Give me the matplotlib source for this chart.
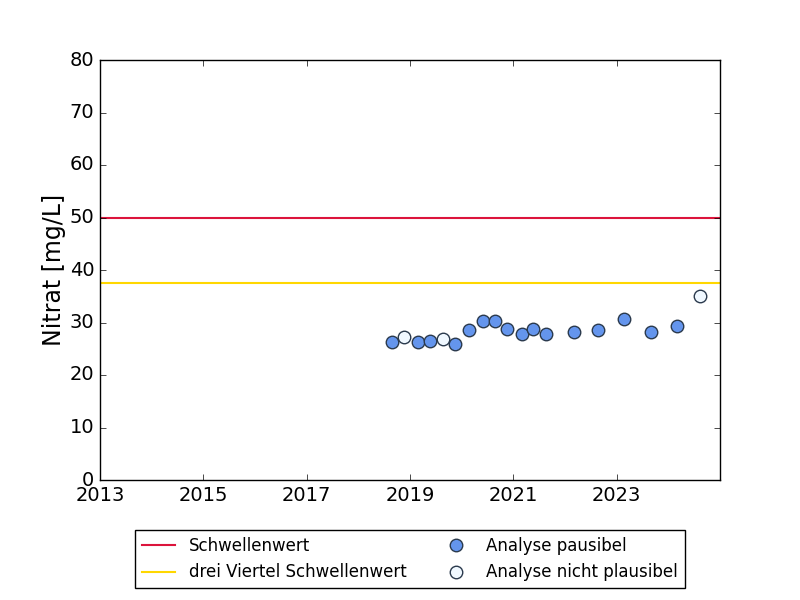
import matplotlib
matplotlib.use("Agg")
import matplotlib.pyplot as plt
import pandas as pd

plt.style.use("classic")

# Data
dates_plausible = ["2018-08-25", "2019-03-01", "2019-05-22", "2019-11-15",
                   "2020-02-20", "2020-06-03", "2020-08-25", "2020-11-15",
                   "2021-03-03", "2021-05-22", "2021-08-22", "2022-03-07",
                   "2022-08-22", "2023-02-25", "2023-09-02", "2024-03-03"]
values_plausible = [26.3, 26.2, 26.4, 26.0,
                    28.5, 30.2, 30.2, 28.7,
                    27.8, 28.8, 27.75, 28.1,
                    28.5, 30.6, 28.1, 29.3]
dates_not_plausible = ["2018-11-22", "2019-08-22", "2024-08-15"]
values_not_plausible = [27.2, 26.8, 35.0]

threshold = 50.0
three_quarter = 37.5
tick_years = [2013, 2015, 2017, 2019, 2021, 2023]
x_start = "2013-01-01"
x_end = "2024-12-31"

fig = plt.figure(figsize=(8, 6), dpi=100)
ax = fig.add_axes([0.125, 0.2, 0.775, 0.7])

ax.axhline(threshold, color="#DC143C", lw=1.5, label="Schwellenwert")
ax.axhline(three_quarter, color="#FFD700", lw=1.5, label="drei Viertel Schwellenwert")
ax.plot(pd.to_datetime(dates_plausible), values_plausible, "o", ls="none",
        color="#6495ED", mec="#2b3a4d", mew=1.0, ms=9, label="Analyse pausibel")
ax.plot(pd.to_datetime(dates_not_plausible), values_not_plausible, "o", ls="none",
        color="#F0F8FF", mec="#2b3a4d", mew=1.0, ms=9, label="Analyse nicht plausibel")

ax.set_xlim(pd.Timestamp(x_start), pd.Timestamp(x_end))
ax.set_ylim(0, 80)
ax.set_xticks([pd.Timestamp(f"{y}-01-01") for y in tick_years])
ax.set_xticklabels([str(y) for y in tick_years])
ax.tick_params(labelsize=14)
ax.set_ylabel("Nitrat [mg/L]", fontsize=17, labelpad=3)

ax.legend(loc="upper center", bbox_to_anchor=(0.5, -0.1), ncol=2,
          numpoints=1, fontsize=12, frameon=True)

fig.savefig("out.png", dpi=100)
